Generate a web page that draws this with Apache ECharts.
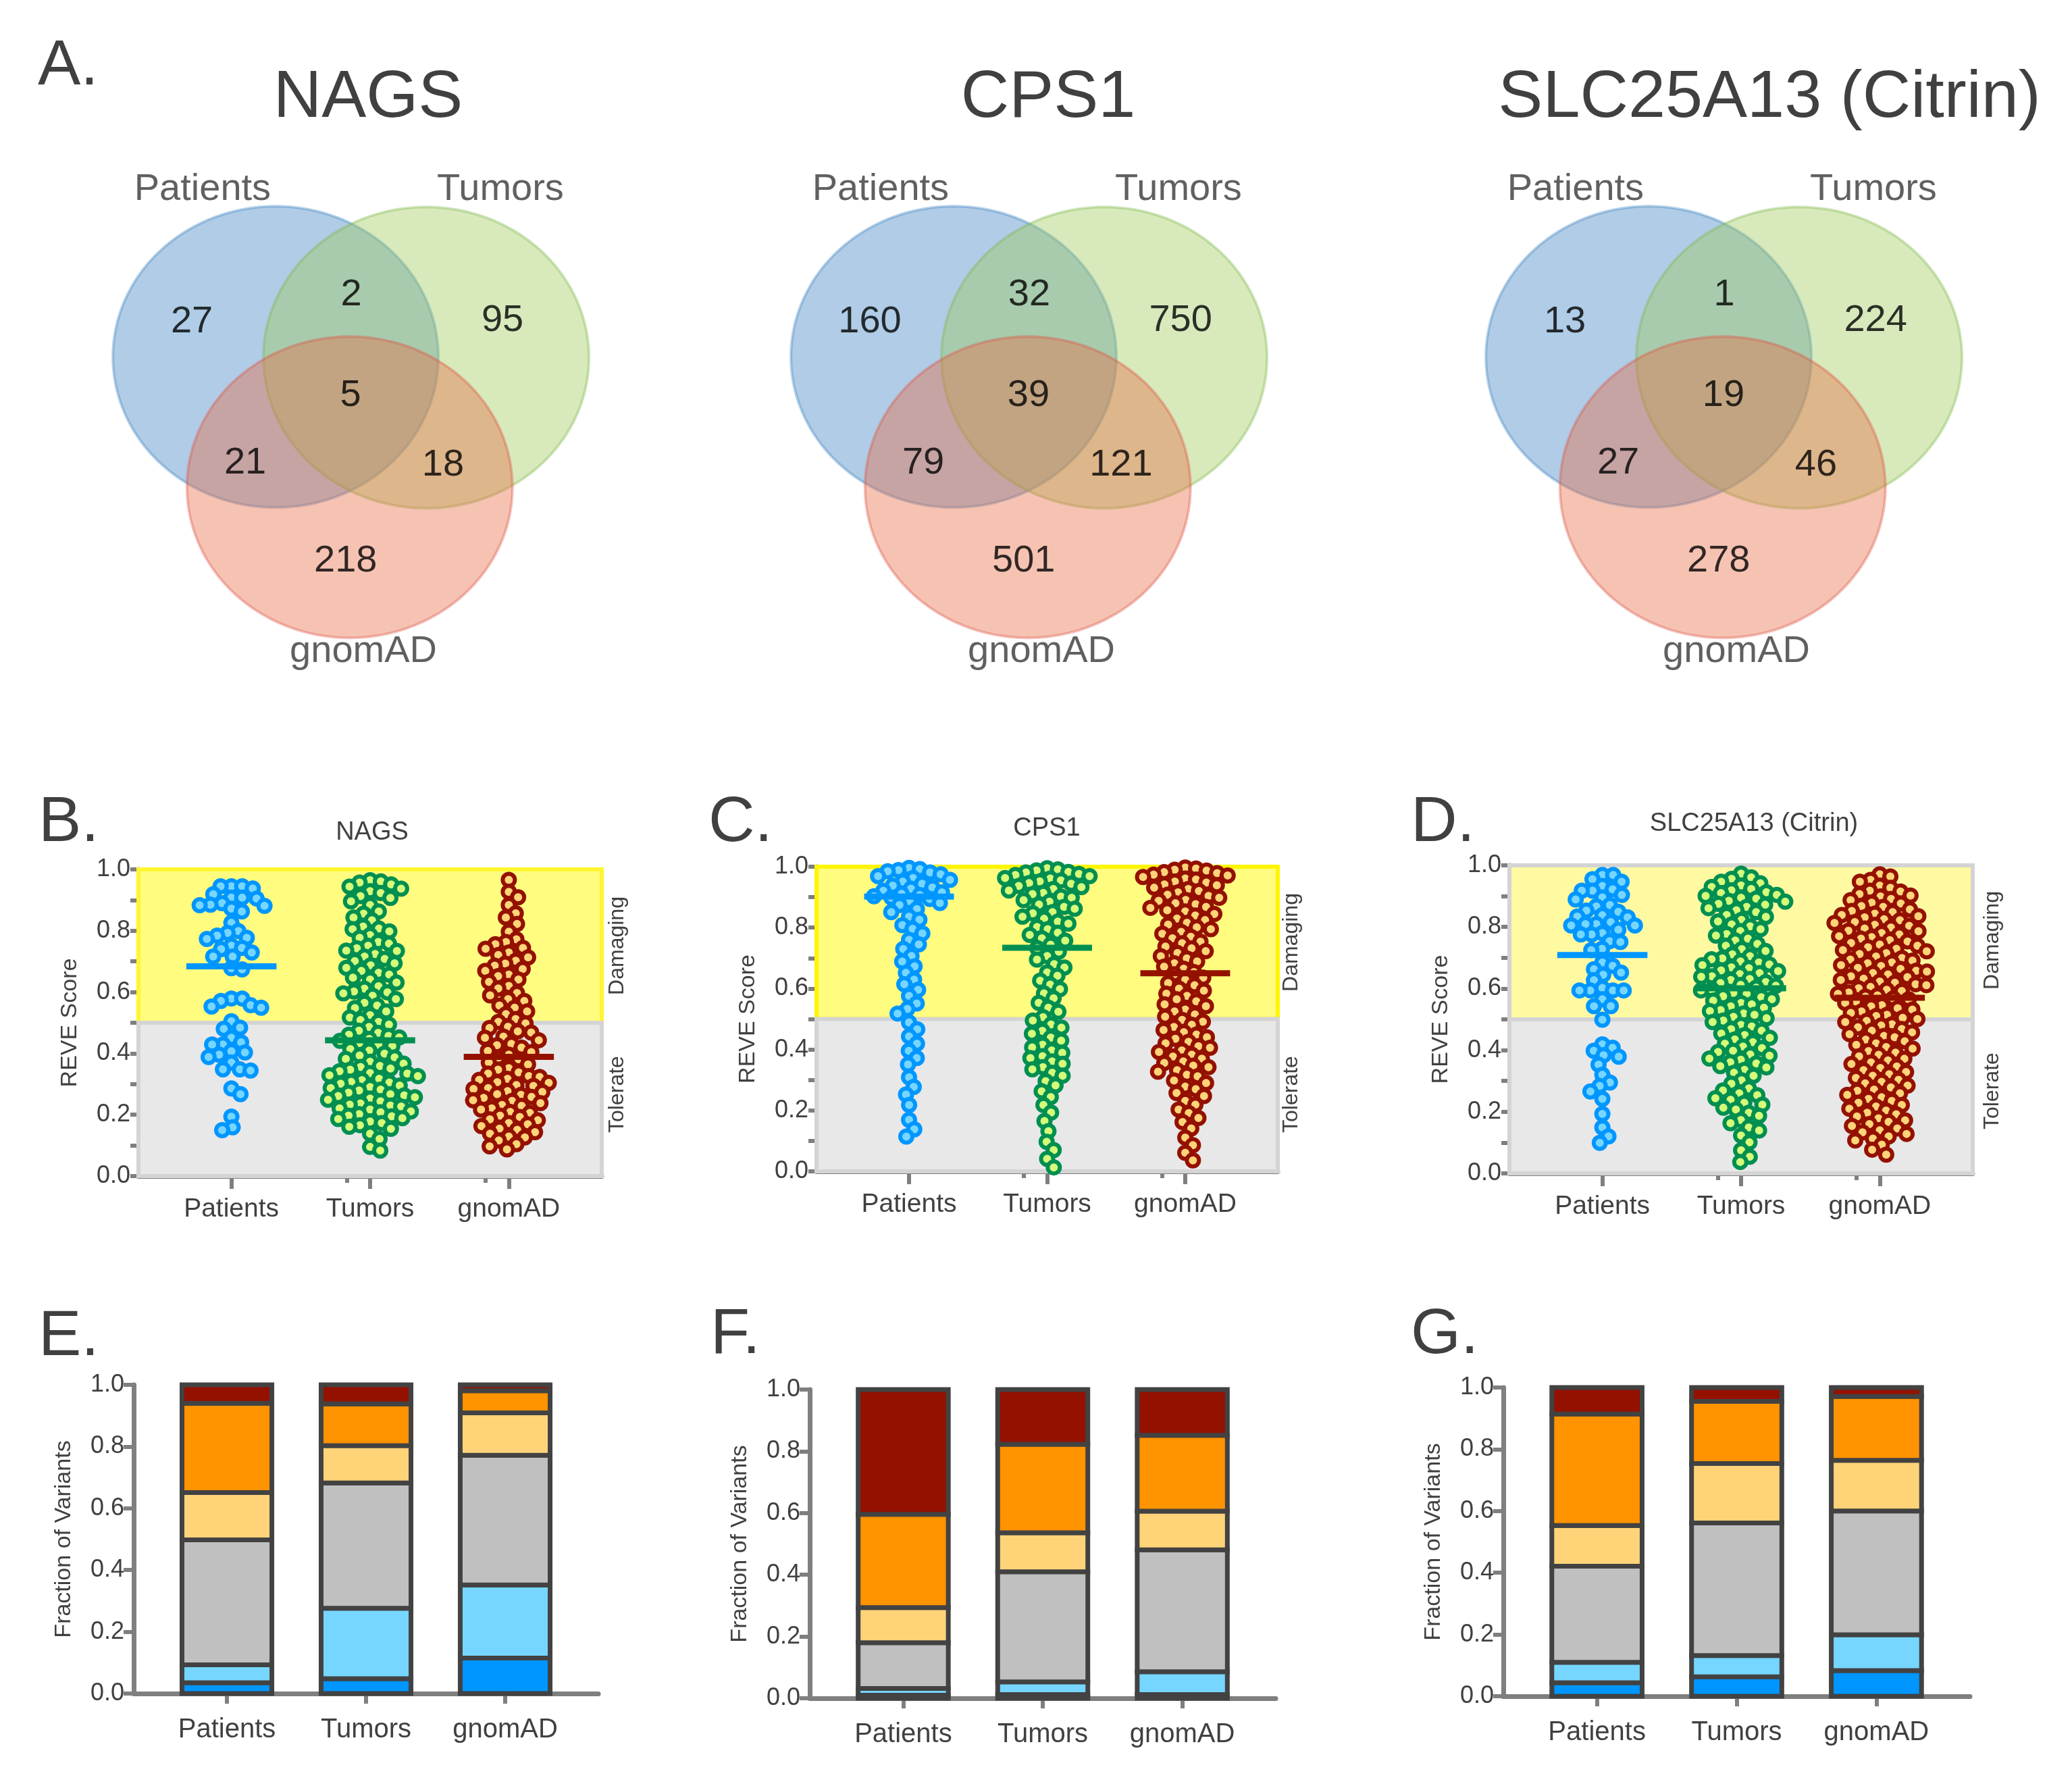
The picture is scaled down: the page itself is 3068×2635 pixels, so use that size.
<!DOCTYPE html>
<html><head><meta charset="utf-8">
<script src="https://cdn.jsdelivr.net/npm/echarts@6/dist/echarts.min.js"></script>
<style>html,body{margin:0;padding:0;background:#fff}#c{width:3068px;height:2635px}</style>
</head><body><div id="c"></div>
<script>
// ================= DATA =================
const genes = ['NAGS', 'CPS1', 'SLC25A13 (Citrin)'];
const groups = ['Patients', 'Tumors', 'gnomAD'];
// Venn region order: Patients only, Patients∩Tumors, Tumors only, all three, Patients∩gnomAD, Tumors∩gnomAD, gnomAD only
const vennNAGS = [27, 2, 95, 5, 21, 18, 218];
const vennCPS1 = [160, 32, 750, 39, 79, 121, 501];
const vennSLC  = [13, 1, 224, 19, 27, 46, 278];

// REVE scores (visible points)
const reveNAGSPatients = [0.945,0.945,0.945,0.938,0.881,0.89,0.908,0.905,0.919,0.885,0.883,0.908,0.863,0.872,0.826,0.793,0.799,0.777,0.784,0.773,0.751,0.744,0.729,0.74,0.716,0.716,0.678,0.674,0.571,0.579,0.549,0.557,0.579,0.553,0.505,0.484,0.48,0.436,0.407,0.396,0.388,0.37,0.429,0.429,0.451,0.403,0.344,0.348,0.348,0.267,0.286,0.194,0.15,0.159];
const reveNAGSTumors = [0.965,0.961,0.957,0.951,0.944,0.937,0.929,0.923,0.913,0.907,0.896,0.884,0.863,0.856,0.843,0.834,0.814,0.807,0.805,0.798,0.786,0.777,0.763,0.758,0.751,0.743,0.735,0.734,0.724,0.716,0.708,0.701,0.694,0.687,0.679,0.669,0.663,0.657,0.647,0.641,0.631,0.619,0.611,0.602,0.599,0.596,0.588,0.577,0.565,0.556,0.548,0.537,0.525,0.517,0.509,0.503,0.494,0.486,0.474,0.467,0.461,0.457,0.452,0.447,0.441,0.434,0.428,0.424,0.414,0.409,0.399,0.393,0.387,0.382,0.373,0.367,0.359,0.356,0.351,0.347,0.342,0.336,0.334,0.329,0.326,0.317,0.313,0.307,0.305,0.301,0.295,0.29,0.287,0.282,0.279,0.272,0.267,0.263,0.261,0.257,0.253,0.249,0.244,0.237,0.233,0.23,0.227,0.221,0.217,0.211,0.208,0.202,0.197,0.195,0.189,0.186,0.178,0.173,0.166,0.161,0.154,0.138,0.121,0.095,0.083];
const reveNAGSGnomad = [0.966,0.927,0.909,0.884,0.857,0.843,0.822,0.797,0.772,0.763,0.756,0.744,0.741,0.729,0.721,0.713,0.702,0.693,0.686,0.675,0.669,0.657,0.652,0.641,0.633,0.62,0.612,0.597,0.589,0.577,0.571,0.556,0.549,0.537,0.528,0.512,0.503,0.498,0.487,0.483,0.472,0.468,0.455,0.451,0.443,0.431,0.427,0.419,0.408,0.404,0.396,0.386,0.381,0.37,0.364,0.352,0.347,0.338,0.334,0.326,0.323,0.317,0.314,0.306,0.304,0.297,0.294,0.287,0.284,0.277,0.274,0.267,0.265,0.258,0.255,0.247,0.245,0.238,0.232,0.229,0.221,0.217,0.209,0.206,0.197,0.193,0.185,0.182,0.173,0.169,0.163,0.155,0.151,0.143,0.138,0.129,0.126,0.116,0.104,0.097,0.087];

const reveCPS1Patients = [0.996,0.992,0.989,0.985,0.981,0.975,0.969,0.963,0.957,0.951,0.944,0.938,0.932,0.928,0.921,0.916,0.911,0.907,0.903,0.898,0.894,0.887,0.881,0.874,0.861,0.851,0.836,0.826,0.808,0.796,0.781,0.76,0.745,0.73,0.707,0.689,0.673,0.652,0.629,0.614,0.596,0.576,0.551,0.533,0.518,0.489,0.466,0.443,0.419,0.396,0.372,0.351,0.309,0.277,0.252,0.218,0.169,0.138,0.114];
const reveCPS1Tumors = [0.995,0.991,0.988,0.983,0.981,0.976,0.973,0.969,0.963,0.961,0.955,0.952,0.946,0.944,0.937,0.933,0.927,0.922,0.914,0.91,0.902,0.898,0.89,0.885,0.876,0.868,0.862,0.851,0.847,0.836,0.829,0.82,0.813,0.802,0.795,0.783,0.776,0.765,0.757,0.744,0.733,0.721,0.707,0.695,0.68,0.669,0.653,0.642,0.626,0.613,0.598,0.584,0.568,0.553,0.537,0.524,0.506,0.495,0.482,0.472,0.461,0.452,0.439,0.429,0.416,0.407,0.397,0.389,0.378,0.372,0.361,0.353,0.342,0.335,0.324,0.314,0.296,0.282,0.263,0.244,0.218,0.193,0.165,0.132,0.097,0.07,0.041,0.013];
const reveCPS1Gnomad = [0.997,0.994,0.99,0.987,0.982,0.979,0.974,0.971,0.966,0.961,0.958,0.951,0.948,0.942,0.939,0.931,0.927,0.92,0.916,0.908,0.904,0.898,0.891,0.888,0.88,0.877,0.868,0.865,0.857,0.853,0.845,0.84,0.83,0.825,0.816,0.81,0.801,0.795,0.786,0.78,0.77,0.765,0.754,0.749,0.738,0.732,0.723,0.717,0.706,0.699,0.689,0.683,0.672,0.665,0.654,0.647,0.636,0.629,0.618,0.611,0.6,0.593,0.583,0.576,0.565,0.558,0.548,0.542,0.531,0.525,0.515,0.508,0.497,0.491,0.481,0.474,0.464,0.457,0.449,0.44,0.435,0.425,0.42,0.411,0.406,0.397,0.392,0.383,0.377,0.37,0.361,0.356,0.347,0.342,0.332,0.327,0.317,0.312,0.298,0.29,0.278,0.27,0.257,0.247,0.231,0.219,0.203,0.191,0.175,0.162,0.141,0.111,0.086,0.061,0.036];

const reveSLCPatients = [0.969,0.947,0.955,0.969,0.922,0.918,0.918,0.933,0.896,0.904,0.889,0.867,0.871,0.853,0.849,0.838,0.834,0.831,0.816,0.809,0.805,0.809,0.776,0.805,0.791,0.78,0.776,0.751,0.754,0.729,0.725,0.674,0.663,0.685,0.652,0.645,0.627,0.602,0.594,0.594,0.594,0.594,0.543,0.543,0.565,0.499,0.408,0.379,0.398,0.419,0.384,0.353,0.32,0.295,0.266,0.284,0.242,0.193,0.149,0.12,0.099];
const reveSLCTumors = [0.973,0.961,0.956,0.947,0.942,0.935,0.93,0.923,0.919,0.913,0.91,0.904,0.901,0.895,0.892,0.885,0.882,0.875,0.872,0.865,0.861,0.854,0.848,0.839,0.833,0.823,0.818,0.808,0.802,0.793,0.787,0.777,0.772,0.762,0.756,0.745,0.739,0.728,0.722,0.711,0.705,0.698,0.695,0.688,0.685,0.678,0.676,0.669,0.666,0.659,0.657,0.65,0.647,0.64,0.638,0.631,0.628,0.621,0.618,0.612,0.609,0.603,0.597,0.594,0.586,0.583,0.575,0.572,0.565,0.561,0.553,0.549,0.542,0.538,0.53,0.527,0.519,0.515,0.508,0.504,0.496,0.491,0.482,0.477,0.468,0.463,0.454,0.449,0.44,0.435,0.426,0.421,0.412,0.407,0.398,0.394,0.386,0.382,0.373,0.369,0.361,0.357,0.348,0.344,0.336,0.327,0.317,0.302,0.291,0.276,0.269,0.26,0.254,0.244,0.239,0.229,0.223,0.213,0.207,0.197,0.187,0.173,0.163,0.149,0.139,0.123,0.101,0.075,0.054,0.037];
const reveSLCGnomad = [0.971,0.964,0.953,0.947,0.934,0.927,0.918,0.915,0.907,0.902,0.899,0.891,0.887,0.879,0.876,0.868,0.865,0.857,0.852,0.848,0.843,0.839,0.835,0.831,0.825,0.822,0.816,0.813,0.807,0.804,0.798,0.795,0.788,0.786,0.78,0.776,0.77,0.767,0.762,0.757,0.753,0.748,0.743,0.739,0.734,0.729,0.725,0.721,0.715,0.712,0.704,0.699,0.694,0.691,0.685,0.682,0.676,0.673,0.667,0.664,0.658,0.655,0.65,0.646,0.64,0.637,0.632,0.628,0.623,0.619,0.614,0.611,0.605,0.601,0.596,0.592,0.587,0.583,0.578,0.574,0.568,0.565,0.558,0.553,0.546,0.542,0.536,0.532,0.526,0.521,0.515,0.511,0.505,0.501,0.495,0.491,0.484,0.48,0.474,0.469,0.463,0.458,0.452,0.446,0.442,0.434,0.429,0.422,0.417,0.41,0.405,0.397,0.392,0.385,0.38,0.372,0.367,0.36,0.355,0.347,0.342,0.335,0.329,0.322,0.317,0.31,0.304,0.297,0.292,0.285,0.279,0.272,0.268,0.26,0.255,0.247,0.242,0.235,0.229,0.222,0.217,0.21,0.204,0.197,0.192,0.185,0.179,0.172,0.167,0.16,0.154,0.146,0.14,0.133,0.128,0.12,0.113,0.107,0.093,0.077,0.061];

// medians (horizontal bars)
const medianNAGS = [0.684, 0.443, 0.389];
const medianCPS1 = [0.902, 0.734, 0.650];
const medianSLC  = [0.709, 0.601, 0.570];

// Fraction of variants per REVE class, bottom to top, for Patients / Tumors / gnomAD
const fracClasses = ['Class 1', 'Class 2', 'Class 3', 'Class 4', 'Class 5', 'Class 6'];
const fracNAGS = [[0.035,0.058,0.405,0.153,0.289,0.060],[0.048,0.228,0.406,0.121,0.135,0.062],[0.115,0.237,0.420,0.137,0.072,0.019]];
const fracCPS1 = [[0.010,0.022,0.148,0.114,0.302,0.404],[0.012,0.041,0.357,0.126,0.287,0.177],[0.012,0.074,0.395,0.125,0.246,0.148]];
const fracSLC  = [[0.044,0.066,0.311,0.132,0.361,0.086],[0.063,0.069,0.429,0.193,0.201,0.045],[0.083,0.116,0.401,0.164,0.207,0.029]];

// ================= LAYOUT / STYLE =================
const FONT = "'Liberation Sans', Arial, Helvetica, sans-serif";
const TXT = '#404040', AX = '#7f7f7f';
const vennData = [vennNAGS, vennCPS1, vennSLC];
const reveData = [[reveNAGSPatients, reveNAGSTumors, reveNAGSGnomad],[reveCPS1Patients, reveCPS1Tumors, reveCPS1Gnomad],[reveSLCPatients, reveSLCTumors, reveSLCGnomad]];
const medianData = [medianNAGS, medianCPS1, medianSLC];
const fracData = [fracNAGS, fracCPS1, fracSLC];

const vennCircleLayout = [[-0.46,-0.29],[0.465,-0.285],[-0.005,0.575]];
const vennRegionLayout = [[-0.975,-0.52],[0.004,-0.70],[0.934,-0.533],[0,-0.035],[-0.647,0.414],[0.568,0.427],[-0.03,1.064]];
const vennSetLabelLayout = [[-0.909,-1.40],[0.921,-1.40],[0.079,1.665]];
const vennFill = ['rgba(58,128,192,0.4)','rgba(158,203,88,0.4)','rgba(233,105,65,0.4)'];
const vennStroke = ['rgba(58,128,192,0.35)','rgba(120,180,70,0.35)','rgba(220,80,70,0.35)'];
const vennCx = [519, 1523, 2552];

const swarmGrids = [{left:205,top:1287,width:686,height:454},{left:1209,top:1283,width:683,height:451},{left:2235,top:1281,width:686,height:456}];
const barGrids = [{left:198,top:2050,width:688,height:457},{left:1199,top:2057,width:690,height:457},{left:2226,top:2054,width:691,height:457}];
const XMIN = -0.67, XMAX = 2.67;
const BAR_HALF = 0.323;
const SWARM_D = 16;
const dotFill = ['#76d6ff','#d4fb79','#ffd479'];
const dotBorder = ['#0096ff','#008f51','#941100'];
const zoneStyles = [
  [{fill:'#fffc7f', stroke:'#fff530'}, {fill:'#e8e8e8', stroke:'#d4d4d4'}],
  [{fill:'#fffc7f', stroke:'#fff500'}, {fill:'#e8e8e8', stroke:'#d4d4d4'}],
  [{fill:'#fffaa2', stroke:'#d4d4d4'}, {fill:'#e8e8e8', stroke:'#d4d4d4'}]
];
const zones = [[0.5, 1.0], [0.0, 0.5]];
const fracColors = ['#0096ff','#76d6ff','#c0c0c0','#ffd479','#ff9300','#941100'];

// ================= OPTION =================
const grid = [], xAxis = [], yAxis = [], series = [];
const lineAx = {color: AX, width: 7};
const tickAx = {color: AX, width: 6};

// Venn
for (let g = 0; g < 3; g++) {
  grid.push({left: vennCx[g] - 482, top: 147, width: 964, height: 892});
  xAxis.push({gridIndex: g, type: 'value', min: -2, max: 2, show: false});
  yAxis.push({gridIndex: g, type: 'value', min: -2, max: 2, inverse: true, show: false});
  series.push({
    type: 'custom', xAxisIndex: g, yAxisIndex: g, silent: true, z: 2,
    data: vennCircleLayout.map((c, k) => [c[0], c[1], k]),
    renderItem: (params, api) => {
      const cx = api.value(0), cy = api.value(1), k = api.value(2);
      const pts = [];
      for (let a = 0; a < 360; a += 2) {
        const t = a * Math.PI / 180;
        pts.push(api.coord([cx + Math.cos(t), cy + Math.sin(t)]));
      }
      return {type: 'polygon', shape: {points: pts}, style: {fill: vennFill[k], stroke: vennStroke[k], lineWidth: 4}};
    }
  });
  series.push({
    type: 'scatter', xAxisIndex: g, yAxisIndex: g, silent: true, z: 4,
    symbolSize: 2, itemStyle: {color: 'rgba(0,0,0,0)'},
    data: vennRegionLayout.map((p, j) => [p[0], p[1], vennData[g][j]]),
    label: {show: true, position: 'inside', formatter: p => String(p.value[2]), color: '#000', fontSize: 56, fontFamily: FONT}
  });
  series.push({
    type: 'scatter', xAxisIndex: g, yAxisIndex: g, silent: true, z: 4,
    symbolSize: 2, itemStyle: {color: 'rgba(0,0,0,0)'},
    data: vennSetLabelLayout.map((p, j) => ({name: groups[j], value: [p[0], p[1]]})),
    label: {show: true, position: 'inside', formatter: '{b}', color: '#383838', fontSize: 56, fontFamily: FONT}
  });
}

// Swarm plots
const swarmAxisIdx = [];
for (let g = 0; g < 3; g++) {
  const gi = grid.length;
  grid.push(swarmGrids[g]);
  const xi = xAxis.length;
  swarmAxisIdx.push({grid: gi, x: xi, y: yAxis.length});
  xAxis.push({gridIndex: gi, type: 'value', min: XMIN, max: XMAX, position: 'bottom',
    axisLine: {show: true, onZero: false, lineStyle: lineAx},
    axisTick: {show: true, customValues: [0,1,2], length: 19, lineStyle: tickAx},
    axisLabel: {show: true, customValues: [0,1,2], formatter: v => groups[Math.round(v)], color: TXT, fontSize: 39, fontFamily: FONT, margin: 30},
    splitLine: {show: false}});
  yAxis.push({gridIndex: gi, type: 'value', min: 0, max: 1, interval: 0.2,
    name: 'REVE Score', nameLocation: 'middle', nameGap: 84,
    nameTextStyle: {color: TXT, fontSize: 34, fontFamily: FONT},
    axisLine: {show: true, onZero: false, lineStyle: lineAx},
    axisTick: {show: true, length: 12, lineStyle: tickAx},
    minorTick: {show: true, splitNumber: 2, length: 12, lineStyle: tickAx},
    axisLabel: {formatter: v => v.toFixed(1), color: TXT, fontSize: 36, fontFamily: FONT, margin: 12},
    splitLine: {show: false}, minorSplitLine: {show: false}});
  const yi = yAxis.length - 1;
  // background zones
  series.push({
    type: 'custom', xAxisIndex: xi, yAxisIndex: yi, silent: true, z: 1,
    data: zones.map((zn, k) => [zn[0], zn[1], k]),
    renderItem: (params, api) => {
      const a = api.coord([XMIN, api.value(1)]), b = api.coord([XMAX, api.value(0)]);
      const st = zoneStyles[g][api.value(2)];
      return {type: 'rect', shape: {x: a[0], y: a[1], width: b[0] - a[0], height: b[1] - a[1]},
        style: {fill: st.fill, stroke: st.stroke, lineWidth: 6}};
    }
  });
  for (let k = 0; k < 3; k++) {
    series.push({id: 'sw' + g + '_' + k, type: 'scatter', xAxisIndex: xi, yAxisIndex: yi, silent: true, z: 3,
      symbol: 'circle', symbolSize: 18,
      itemStyle: {color: dotFill[k], borderColor: dotBorder[k], borderWidth: 6, opacity: 1},
      data: []});
  }
  series.push({
    type: 'custom', xAxisIndex: xi, yAxisIndex: yi, silent: true, z: 6,
    data: medianData[g].map((m, k) => [k, m]),
    renderItem: (params, api) => {
      const k = api.value(0), m = api.value(1);
      const a = api.coord([k - 0.325, m]), b = api.coord([k + 0.325, m]);
      return {type: 'line', shape: {x1: a[0], y1: a[1], x2: b[0], y2: b[1]}, style: {stroke: dotBorder[k], lineWidth: 9}};
    }
  });
  // secondary short ticks (as in the original graphic)
  xAxis.push({gridIndex: gi, type: 'value', min: XMIN, max: XMAX, position: 'bottom', offset: 0,
    axisLine: {show: false, onZero: false},
    axisTick: {show: true, customValues: [0.832, 1.832], length: 10, lineStyle: tickAx},
    axisLabel: {show: false}, splitLine: {show: false}});
}

// Stacked bars (segments stacked from the fractions, drawn through the axes)
for (let g = 0; g < 3; g++) {
  const gi = grid.length;
  grid.push(barGrids[g]);
  const xi = xAxis.length;
  xAxis.push({gridIndex: gi, type: 'value', min: XMIN, max: XMAX, position: 'bottom',
    axisLine: {show: true, onZero: false, lineStyle: lineAx},
    axisTick: {show: true, customValues: [0,1,2], length: 15, lineStyle: tickAx},
    axisLabel: {show: true, customValues: [0,1,2], formatter: v => groups[Math.round(v)], color: TXT, fontSize: 40, fontFamily: FONT, margin: 34},
    splitLine: {show: false}});
  const yi = yAxis.length;
  yAxis.push({gridIndex: gi, type: 'value', min: 0, max: 1, interval: 0.2,
    name: 'Fraction of Variants', nameLocation: 'middle', nameGap: 86,
    nameTextStyle: {color: TXT, fontSize: 34, fontFamily: FONT},
    axisLine: {show: true, onZero: false, lineStyle: lineAx},
    axisTick: {show: true, length: 15, lineStyle: tickAx},
    axisLabel: {formatter: v => v.toFixed(1), color: TXT, fontSize: 36, fontFamily: FONT, margin: 14},
    splitLine: {show: false}});
  const segs = [];
  fracData[g].forEach((row, k) => {
    let base = 0;
    row.forEach((v, c) => { segs.push([k, base, base + v, c]); base += v; });
  });
  series.push({
    type: 'custom', name: 'fractions', xAxisIndex: xi, yAxisIndex: yi, silent: true, z: 2,
    encode: {x: 0, y: [1, 2]},
    data: segs,
    renderItem: (params, api) => {
      const k = api.value(0), lo = api.value(1), hi = api.value(2), c = api.value(3);
      const a = api.coord([k - BAR_HALF, hi]), b = api.coord([k + BAR_HALF, lo]);
      return {type: 'rect', shape: {x: a[0], y: a[1], width: b[0] - a[0], height: b[1] - a[1]},
        style: {fill: fracColors[c], stroke: '#424242', lineWidth: 7}};
    }
  });
}

// free text
const graphic = [];
function txt(text, x, y, size, opts) {
  graphic.push({type: 'text', x: x, y: y, z: 100,
    style: Object.assign({text: text, fill: TXT, font: size + 'px ' + FONT, textAlign: 'center', textVerticalAlign: 'middle'}, opts || {})});
}
const letters = [['A.',56,99],['B.',57,1219],['C.',1049,1219],['D.',2089,1219],['E.',57,1980],['F.',1052,1977],['G.',2089,1977]];
letters.forEach(l => txt(l[0], l[1], l[2], 95, {textAlign: 'left'}));
[[545,146],[1552,146],[2620,146]].forEach((p, g) => txt(genes[g], p[0], p[1], 99));
[[551,1233],[1550,1227],[2597,1220]].forEach((p, g) => txt(genes[g], p[0], p[1], 38));
[[914,1400,1620],[1912,1395,1620],[2950,1392,1615]].forEach(p => {
  graphic.push({type: 'text', x: p[0], y: p[1], rotation: Math.PI / 2, z: 100,
    style: {text: 'Damaging', fill: TXT, font: '32px ' + FONT, textAlign: 'center', textVerticalAlign: 'middle'}});
  graphic.push({type: 'text', x: p[0], y: p[2], rotation: Math.PI / 2, z: 100,
    style: {text: 'Tolerate', fill: TXT, font: '32px ' + FONT, textAlign: 'center', textVerticalAlign: 'middle'}});
});

const chart = echarts.init(document.getElementById('c'), null, {renderer: 'canvas'});
chart.setOption({animation: false, backgroundColor: '#ffffff', grid, xAxis, yAxis, series, graphic});

// beeswarm layout (computed from values, in pixel space, then mapped back to axis units)
function beeswarm(values, pxX, pxY, d) {
  const sorted = values.slice().sort((a, b) => b - a);
  const placed = [], out = [];
  const d2 = d * d;
  for (const v of sorted) {
    const y = v * pxY;
    const near = placed.filter(p => Math.abs(p.y - y) < d);
    const cands = [0];
    near.forEach(p => { const dx = Math.sqrt(d2 - (p.y - y) * (p.y - y)); cands.push(p.x + dx, p.x - dx); });
    cands.sort((a, b) => Math.abs(a) - Math.abs(b));
    let x = 0;
    for (const c of cands) {
      if (near.every(p => (p.x - c) * (p.x - c) + (p.y - y) * (p.y - y) >= d2 - 0.01)) { x = c; break; }
    }
    placed.push({x, y});
    out.push([x / pxX, v]);
  }
  return out;
}
const upd = [];
for (let g = 0; g < 3; g++) {
  const gi = swarmAxisIdx[g].grid;
  const p0 = chart.convertToPixel({gridIndex: gi}, [0, 0]);
  const p1 = chart.convertToPixel({gridIndex: gi}, [1, 1]);
  const pxX = Math.abs(p1[0] - p0[0]), pxY = Math.abs(p1[1] - p0[1]);
  for (let k = 0; k < 3; k++) {
    const pts = beeswarm(reveData[g][k], pxX, pxY, SWARM_D).map(p => [p[0] + k, p[1]]);
    upd.push({id: 'sw' + g + '_' + k, data: pts});
  }
}
chart.setOption({series: upd});
</script>
</body></html>
